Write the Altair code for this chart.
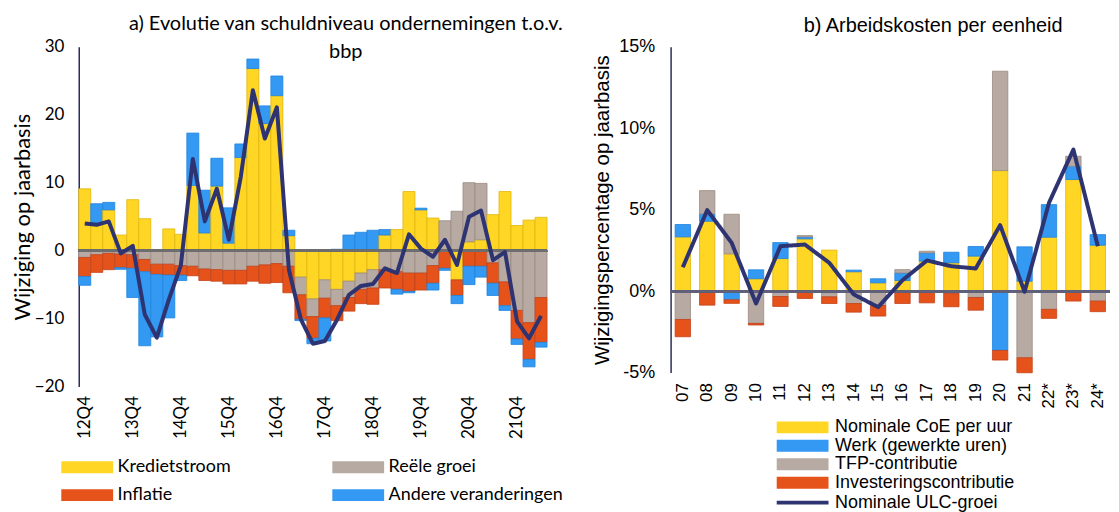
import altair as alt
import pandas as pd

# ---------------- Panel a: schuldniveau ondernemingen ----------------
kwartalen = ["12Q4", "13Q1", "13Q2", "13Q3", "13Q4", "14Q1", "14Q2", "14Q3", "14Q4",
             "15Q1", "15Q2", "15Q3", "15Q4", "16Q1", "16Q2", "16Q3", "16Q4",
             "17Q1", "17Q2", "17Q3", "17Q4", "18Q1", "18Q2", "18Q3", "18Q4",
             "19Q1", "19Q2", "19Q3", "19Q4", "20Q1", "20Q2", "20Q3", "20Q4",
             "21Q1", "21Q2", "21Q3", "21Q4", "22Q1", "22Q2"]
kwartaal_labels = ["12Q4", "13Q4", "14Q4", "15Q4", "16Q4", "17Q4", "18Q4", "19Q4", "20Q4", "21Q4"]
kredietstroom = [9.1, 4.0, 6.0, 2.3, 7.5, 4.7, 0.1, 3.2, 2.4,
                 9.6, 2.6, 9.5, 1.1, 13.7, 26.8, 18.7, 22.8,
                 2.2, -3.9, -7.1, -4.3, -5.7, -4.5, -3.3, -2.8,
                 2.3, 3.1, 8.7, 6.0, 4.8, 0.0, -4.3, 1.3,
                 1.6, 5.3, 8.7, 3.7, 4.5, 4.9]
reele_groei = [-1.0, -0.6, -0.4, -0.5, -0.6, -1.3, -2.0, -2.0, -2.2,
               -2.3, -2.7, -2.8, -2.9, -2.9, -2.3, -2.1, -1.9,
               -2.3, -2.6, -2.6, -2.7, -2.4, -2.4, -2.4, -2.7,
               -2.8, -3.1, -3.3, -3.3, -2.2, 4.4, 5.8, 8.7,
               8.3, -1.8, -4.6, -8.8, -10.6, -6.9]
inflatie = [-2.8, -2.6, -2.4, -2.0, -2.0, -1.8, -1.5, -1.6, -1.4,
            -1.4, -1.7, -1.7, -2.0, -2.0, -2.2, -2.7, -2.8,
            -3.9, -3.6, -3.2, -2.9, -2.2, -2.0, -2.1, -2.4,
            -2.7, -2.6, -2.7, -2.5, -2.6, -2.6, -2.3, -2.3,
            -2.3, -3.0, -3.5, -4.2, -5.4, -6.6]
andere = [-1.3, 2.9, 1.1, -0.25, -4.3, -10.9, -9.2, -6.3, -0.8,
          7.7, 6.3, 4.1, 5.2, 2.0, 1.4, 2.6, 2.9,
          0.8, -0.2, -0.8, -3.4, 0.2, 2.3, 2.7, 3.0,
          0.8, -0.7, -0.2, 0.25, -1.0, -0.3, -1.2, -2.7,
          -1.6, -1.8, -0.7, -0.8, -1.1, -0.7]
schuld_totaal = [4.0, 3.8, 4.3, -0.4, 0.7, -9.4, -12.8, -7.2, -2.2,
                 13.5, 4.3, 9.1, 1.6, 10.9, 23.6, 16.5, 21.1,
                 -2.8, -10.1, -13.7, -13.3, -10.2, -6.5, -5.2, -4.9,
                 -2.6, -3.3, 2.4, 0.3, -0.9, 1.6, -2.1, 5.0,
                 5.9, -1.4, -0.2, -10.4, -12.9, -9.6]
namen_a = ["Kredietstroom", "Reële groei", "Inflatie", "Andere veranderingen"]

# ---------------- Panel b: arbeidskosten per eenheid ----------------
jaren = ["07", "08", "09", "10", "11", "12", "13", "14", "15", "16", "17", "18",
         "19", "20", "21", "22*", "23*", "24*"]
coe_per_uur = [3.33, 4.29, 2.29, 0.76, 2.0, 3.21, 2.52, 1.19, 0.51, 0.65, 1.84, 1.74,
               2.15, 7.40, 0.61, 3.31, 6.85, 2.82]
werk = [0.76, 0.45, -0.53, 0.55, 0.98, 0.12, -0.10, 0.10, 0.25, 0.47, 0.51, 0.65,
        0.59, -3.64, 2.11, 2.0, 0.82, 0.65]
tfp = [-1.74, 1.43, 2.43, -1.98, -0.33, 0.08, -0.25, -0.76, -0.88, 0.2, 0.1, -0.14,
       -0.39, 6.1, -4.09, -1.12, 0.61, -0.61]
investering = [-1.06, -0.86, -0.22, -0.1, -0.61, -0.45, -0.41, -0.53, -0.65, -0.76, -0.72, -0.82,
               -0.78, -0.59, -0.92, -0.55, -0.61, -0.65]
ulc_groei = [1.47, 4.97, 2.97, -0.76, 2.76, 2.86, 1.74, -0.2, -0.98, 0.67, 1.88, 1.53,
             1.39, 4.05, -0.04, 5.42, 8.69, 2.76]
namen_b = ["Nominale CoE per uur", "Werk (gewerkte uren)", "TFP-contributie", "Investeringscontributie"]
naam_lijn_b = "Nominale ULC-groei"

# colours
geel, grijs, oranje, blauw = "#FFD624", "#B7AAA3", "#E5531A", "#3399F3"
geel_r, grijs_r, oranje_r, blauw_r = "#E2B60C", "#9A8A82", "#C4431A", "#1F84E0"
navy = "#2E3371"
FONT_A = "Lato"
FONT_B = "Liberation Sans"
# legend swatch: 52 x 12 px rectangle drawn from the entry's left edge (size 169 -> unit 6.5 px)
RECT = "M-1,-0.92H7V0.92H-1Z"
STREEP = "M-1,0H7"

# ---------------- data frames ----------------
rows_a = []
for i, q in enumerate(kwartalen):
    for j, vals in enumerate([kredietstroom, reele_groei, inflatie, andere]):
        rows_a.append({"kwartaal": q, "component": namen_a[j], "waarde": vals[i], "volgorde": j})
df_a = pd.DataFrame(rows_a)
df_a_lijn = pd.DataFrame({"kwartaal": kwartalen, "totaal": schuld_totaal})

rows_b = []
for i, jr in enumerate(jaren):
    for j, vals in enumerate([coe_per_uur, werk, tfp, investering]):
        rows_b.append({"jaar": jr, "bijdrage": namen_b[j], "pct": vals[i], "volgorde": j})
df_b = pd.DataFrame(rows_b)
df_b_lijn = pd.DataFrame({"jaar": jaren, "ulc": ulc_groei, "reeks": [naam_lijn_b] * len(jaren)})

# ---------------- panel a ----------------
x_a = alt.X("kwartaal:N", sort=kwartalen,
            scale=alt.Scale(paddingInner=0, paddingOuter=0),
            axis=alt.Axis(values=kwartaal_labels, labelAngle=270, title=None, domain=False,
                          ticks=False, labelPadding=9, labelFont=FONT_A, labelFontSize=17,
                          labelColor="black"))
y_a = alt.Y("waarde:Q", stack="zero",
            scale=alt.Scale(domain=[-20, 30], nice=False, zero=False),
            axis=alt.Axis(values=[-20, -10, 0, 10, 20, 30], grid=False, ticks=False,
                          domainColor="#2B2B5E", domainWidth=1.5, labelFont=FONT_A,
                          labelFontSize=17, labelColor="black", labelPadding=15,
                          title="Wijziging op jaarbasis", titleFont=FONT_A, titleFontSize=22,
                          titleFontWeight="normal", titleColor="black", titlePadding=0))

bars_a = alt.Chart(df_a).mark_bar(strokeWidth=0.8).encode(
    x=x_a,
    y=y_a,
    color=alt.Color("component:N",
                    scale=alt.Scale(domain=namen_a, range=[geel, grijs, oranje, blauw]),
                    legend=alt.Legend(orient="none", legendX=-20, legendY=413,
                                      direction="horizontal", columns=2, title=None,
                                      symbolType=RECT, symbolSize=169, symbolStrokeWidth=0,
                                      labelFont=FONT_A, labelFontSize=18, labelColor="black",
                                      labelOffset=41, columnPadding=99, rowPadding=10,
                                      padding=0, labelLimit=300)),
    stroke=alt.Stroke("component:N",
                      scale=alt.Scale(domain=namen_a, range=[geel_r, grijs_r, oranje_r, blauw_r]),
                      legend=None),
    order=alt.Order("volgorde:Q"),
)
nul_a = alt.Chart(df_a_lijn).mark_rule(color="#6E6E6E", strokeWidth=2).encode(y=alt.datum(0))
lijn_a = alt.Chart(df_a_lijn).mark_line(color=navy, strokeWidth=4, strokeJoin="round").encode(
    x=alt.X("kwartaal:N", sort=kwartalen),
    y=alt.Y("totaal:Q"),
)
panel_a = alt.layer(bars_a, nul_a, lijn_a).properties(
    width=470, height=341,
    title=alt.TitleParams(["a) Evolutie van schuldniveau ondernemingen t.o.v.", "bbp"],
                          font=FONT_A, fontSize=20, fontWeight="normal", color="black",
                          anchor="middle", dx=33, offset=-24, lineHeight=28),
)

# ---------------- panel b ----------------
x_b = alt.X("jaar:N", sort=jaren,
            scale=alt.Scale(paddingInner=0.37, paddingOuter=0.185),
            axis=alt.Axis(labelAngle=270, title=None, domain=False, ticks=False,
                          labelPadding=10, labelFont=FONT_B, labelFontSize=17,
                          labelColor="black"))
y_b = alt.Y("pct:Q", stack="zero",
            scale=alt.Scale(domain=[-5, 15], nice=False, zero=False),
            axis=alt.Axis(values=[-5, 0, 5, 10, 15], labelExpr="datum.value + '%'",
                          grid=False, ticks=False, domainColor="#2B2B5E", domainWidth=1.5,
                          labelFont=FONT_B, labelFontSize=18, labelColor="black",
                          labelPadding=16, title="Wijzigingspercentage op jaarbasis",
                          titleFont=FONT_B, titleFontSize=20.5, titleFontWeight="normal",
                          titleColor="black", titlePadding=6))

bars_b = alt.Chart(df_b).mark_bar(strokeWidth=0.8).encode(
    x=x_b,
    y=y_b,
    color=alt.Color("bijdrage:N",
                    scale=alt.Scale(domain=namen_b, range=[geel, blauw, grijs, oranje]),
                    legend=alt.Legend(orient="none", legendX=104, legendY=373,
                                      direction="vertical", title=None,
                                      symbolType=RECT, symbolSize=169, symbolStrokeWidth=0,
                                      labelFont=FONT_B, labelFontSize=18, labelColor="black",
                                      labelOffset=43, rowPadding=0.5, padding=0, labelLimit=300)),
    stroke=alt.Stroke("bijdrage:N",
                      scale=alt.Scale(domain=namen_b, range=[geel_r, blauw_r, grijs_r, oranje_r]),
                      legend=None),
    order=alt.Order("volgorde:Q"),
)
nul_b = alt.Chart(df_b_lijn).mark_rule(color="#5F6079", strokeWidth=2).encode(y=alt.datum(0))
lijn_b = alt.Chart(df_b_lijn).mark_line(color=navy, strokeWidth=4, strokeJoin="round").encode(
    x=alt.X("jaar:N", sort=jaren),
    y=alt.Y("ulc:Q"),
    strokeDash=alt.StrokeDash("reeks:N",
                              scale=alt.Scale(domain=[naam_lijn_b], range=[[1, 0]]),
                              legend=alt.Legend(orient="none", legendX=104, legendY=448.5,
                                                title=None, symbolType=STREEP,
                                                symbolSize=169, symbolStrokeWidth=4,
                                                symbolStrokeColor=navy,
                                                symbolFillColor="transparent",
                                                labelFont=FONT_B, labelFontSize=18,
                                                labelColor="black", labelOffset=43,
                                                padding=0, labelLimit=300)),
)
panel_b = alt.layer(bars_b, nul_b, lijn_b).properties(
    width=441, height=327,
    title=alt.TitleParams("b) Arbeidskosten per eenheid", font=FONT_B, fontSize=20,
                          fontWeight="normal", color="black", anchor="middle", dx=43,
                          offset=2),
)

chart = alt.hconcat(panel_a, panel_b, spacing=124, bounds="flush").resolve_scale(
    color="independent", stroke="independent", strokeDash="independent", x="independent",
    y="independent"
).properties(
    padding={"left": 3, "top": 5, "right": 0, "bottom": 0}
).configure_view(stroke=None)

chart.save("out.html", embed_options={"renderer": "svg", "actions": False})
